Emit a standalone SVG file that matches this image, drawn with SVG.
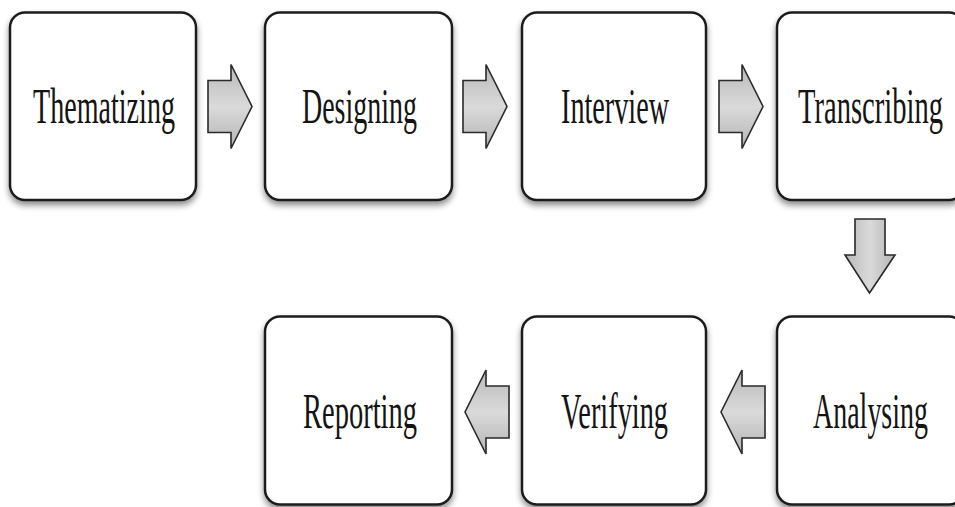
<svg xmlns="http://www.w3.org/2000/svg" xmlns:xlink="http://www.w3.org/1999/xlink" width="955" height="507" viewBox="0 0 955 507">
  <defs>
    <filter id="shadow" x="-10%" y="-10%" width="120%" height="125%">
      <feDropShadow dx="0" dy="4" stdDeviation="3" flood-color="#000" flood-opacity="0.45"/>
    </filter>
    <linearGradient id="arrowFillH" x1="0" y1="0" x2="0" y2="1">
      <stop offset="0" stop-color="#b8b8b8"/>
      <stop offset="0.5" stop-color="#dadada"/>
      <stop offset="1" stop-color="#b4b4b4"/>
    </linearGradient>
    <linearGradient id="arrowFillV" x1="0" y1="0" x2="1" y2="0">
      <stop offset="0" stop-color="#b8b8b8"/>
      <stop offset="0.5" stop-color="#dadada"/>
      <stop offset="1" stop-color="#b4b4b4"/>
    </linearGradient>
    <!-- block arrow pointing right; origin at tail, centred on y=0 -->
    <path id="blockArrow" d="M0,-26 L23,-26 L23,-42 L44,0 L23,42 L23,26 L0,26 Z"/>
  </defs>
  <style>
    .box { fill: #ffffff; stroke: #1c1c1c; stroke-width: 2.5; filter: url(#shadow); }
    .label { font-family: "Liberation Serif", "Times New Roman", serif; font-size: 50px; fill: #141414; }
    .arrow { fill: url(#arrowFillH); stroke: #2a2a2a; stroke-width: 1.6; stroke-linejoin: miter; }
    .arrowV { fill: url(#arrowFillV); stroke: #2a2a2a; stroke-width: 1.6; }
  </style>
  <rect width="955" height="507" fill="#ffffff"/>

  <g id="connectors">
    <use href="#blockArrow" class="arrow" transform="translate(208,106.5)"/>
    <use href="#blockArrow" class="arrow" transform="translate(463,106.5)"/>
    <use href="#blockArrow" class="arrow" transform="translate(719,106.5)"/>
    <path class="arrowV" d="M855,219 L885,219 L885,255 L895,255 L869.5,293 L845,255 L855,255 Z"/>
    <use href="#blockArrow" class="arrow" transform="translate(765,412) scale(-1,1)"/>
    <use href="#blockArrow" class="arrow" transform="translate(509,412) scale(-1,1)"/>
  </g>

  <g id="thematizing">
    <rect class="box" x="10" y="12.5" width="186" height="187.5" rx="15"/>
    <text class="label" x="33" y="123" textLength="142" lengthAdjust="spacingAndGlyphs">Thematizing</text>
  </g>
  <g id="designing">
    <rect class="box" x="265" y="12.5" width="187" height="187.5" rx="15"/>
    <text class="label" x="302" y="123" textLength="115" lengthAdjust="spacingAndGlyphs">Designing</text>
  </g>
  <g id="interview">
    <rect class="box" x="522" y="12.5" width="184" height="187.5" rx="15"/>
    <text class="label" x="561" y="123" textLength="108" lengthAdjust="spacingAndGlyphs">Interview</text>
  </g>
  <g id="transcribing">
    <rect class="box" x="777" y="12.5" width="187" height="187.5" rx="15"/>
    <text class="label" x="798" y="123" textLength="145" lengthAdjust="spacingAndGlyphs">Transcribing</text>
  </g>
  <g id="analysing">
    <rect class="box" x="777" y="316.5" width="187" height="188" rx="15"/>
    <text class="label" x="813" y="428" textLength="115" lengthAdjust="spacingAndGlyphs">Analysing</text>
  </g>
  <g id="verifying">
    <rect class="box" x="522" y="316.5" width="184" height="188" rx="15"/>
    <text class="label" x="561" y="428" textLength="107" lengthAdjust="spacingAndGlyphs">Verifying</text>
  </g>
  <g id="reporting">
    <rect class="box" x="265" y="316.5" width="187" height="188" rx="15"/>
    <text class="label" x="303" y="428" textLength="114" lengthAdjust="spacingAndGlyphs">Reporting</text>
  </g>
</svg>
